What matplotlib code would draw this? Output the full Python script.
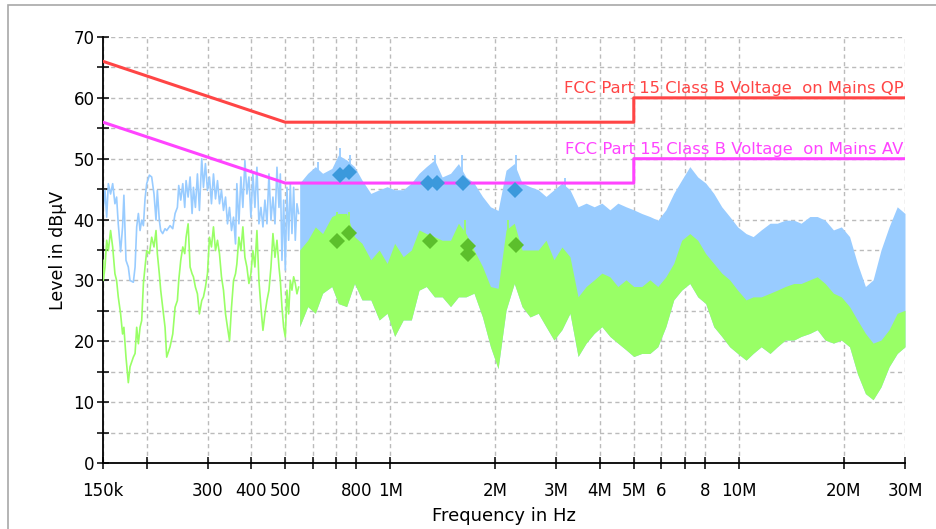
import matplotlib
matplotlib.use('Agg')
import matplotlib.pyplot as plt
from matplotlib.patches import Rectangle

# --- limit lines (MHz / dBuV) ---
lim_mhz = [0.15, 0.5, 5, 5, 30]
qp_limit = [66, 56, 56, 60, 60]
av_limit = [56, 46, 46, 50, 50]

# --- low band, single traces (kHz / dBuV) ---
left_khz = [150, 150.3, 152.0, 153.7, 155.4, 157.7, 159.9, 162.3, 164.1, 165.9,
            168.5, 170.7, 172.2, 174.6, 177.3, 179.3, 183.3, 185.4, 187.4, 189.5,
            191.6, 193.7, 195.9, 198.0, 200.2, 203.8, 206.9, 210.1, 212.9, 214.8,
            217.6, 219.6, 222.5, 226.0, 228.5, 233.6, 237.8, 241.5, 245.2, 247.4,
            250.7, 254.1, 257.4, 259.7, 263.2, 266.7, 270.2, 272.6, 276.2, 279.9,
            283.6, 288.0, 291.3, 295.1, 299.1, 303.1, 307.1, 311.2, 315.4, 319.6,
            323.8, 328.1, 332.5, 337.0, 341.4, 346.0, 350.6, 355.3, 360.0, 363.2,
            368.1, 373.0, 377.9, 383.0, 388.1, 393.3, 398.5, 403.8, 409.2, 414.7,
            420.2, 425.8, 431.5, 437.2, 443.1, 449.0, 455.0, 461.0, 467.2, 473.4,
            479.7, 484.0, 489.3, 494.7, 500.2, 505.7, 511.3, 517.0, 522.7, 528.5,
            534.3, 540.2, 546.2]
peak_left = [45.1, 42.0, 44.8, 40.4, 45.9, 44.2, 45.9, 42.6, 43.7, 39.3,
             34.7, 38.8, 44.0, 33.3, 32.2, 30.0, 29.7, 32.2, 38.8, 41.0,
             38.2, 39.9, 39.0, 43.4, 45.9, 47.3, 47.0, 44.2, 39.9, 44.8,
             39.9, 38.2, 37.7, 38.5, 38.2, 39.0, 38.5, 41.0, 42.0, 45.6,
             43.2, 45.9, 42.0, 46.4, 43.7, 47.0, 41.0, 45.3, 42.0, 47.5,
             41.5, 50.0, 45.3, 49.2, 44.8, 47.0, 42.6, 47.5, 43.4, 46.4,
             42.6, 44.8, 41.5, 43.7, 39.3, 42.0, 38.2, 40.4, 36.0, 45.9,
             39.3, 47.0, 42.0, 49.7, 44.2, 47.0, 40.4, 47.5, 42.0, 48.6,
             39.3, 42.0, 38.8, 43.2, 39.3, 47.5, 39.9, 43.7, 39.3, 48.6,
             42.0, 47.5, 33.3, 43.2, 31.7, 45.3, 36.6, 45.9, 37.7, 45.3,
             36.6, 42.6, 41.0]
avg_left = [33.3, 30.0, 32.2, 36.6, 34.9, 38.2, 35.5, 31.1, 30.0, 27.3,
            24.5, 21.2, 22.3, 17.4, 13.2, 15.8, 17.4, 18.0, 22.3, 19.6,
            22.3, 23.4, 29.5, 32.2, 34.9, 34.4, 37.1, 35.5, 38.2, 34.4,
            31.1, 28.4, 25.6, 22.3, 17.4, 19.1, 21.2, 25.6, 26.7, 30.0,
            33.3, 35.5, 34.4, 37.1, 39.3, 32.2, 31.1, 30.6, 28.9, 27.8,
            24.5, 26.7, 27.3, 28.9, 31.1, 37.1, 35.5, 38.8, 34.9, 36.6,
            34.4, 30.6, 28.4, 24.5, 22.3, 20.1, 25.6, 30.0, 31.1, 32.7,
            37.1, 34.9, 38.8, 33.8, 32.2, 29.5, 31.1, 34.9, 32.2, 38.2,
            30.0, 25.6, 21.8, 24.5, 26.7, 28.4, 32.2, 37.7, 33.8, 36.6,
            32.2, 30.0, 25.6, 22.3, 20.7, 28.4, 24.5, 30.0, 28.4, 30.6,
            29.5, 27.8, 28.9]

# --- dense band above ~550 kHz (MHz / dBuV), upper and lower edges ---
band_mhz = [0.55, 0.58, 0.61, 0.64, 0.68, 0.71, 0.75, 0.79, 0.83, 0.88,
            0.93, 0.98, 1.03, 1.09, 1.15, 1.21, 1.27, 1.34, 1.41, 1.49,
            1.57, 1.65, 1.74, 1.84, 1.94, 2.04, 2.15, 2.27, 2.39, 2.52,
            2.66, 2.8, 2.95, 3.11, 3.28, 3.46, 3.65, 3.85, 4.05, 4.27,
            4.5, 4.75, 5.0, 5.27, 5.56, 5.86, 6.18, 6.51, 6.86, 7.24,
            7.63, 8.04, 8.48, 8.94, 9.42, 9.93, 10.5, 11.0, 11.6, 12.3,
            12.9, 13.6, 14.4, 15.1, 16.0, 16.8, 17.7, 18.7, 19.7, 20.8,
            21.9, 23.1, 24.3, 25.6, 27.0, 28.5, 30.0]
peak_hi = [46.0, 47.6, 48.7, 47.6, 48.4, 50.6, 49.8, 48.7, 46.5, 44.3,
           44.9, 45.4, 44.9, 44.9, 46.0, 47.6, 48.7, 49.8, 47.0, 47.6,
           49.2, 47.0, 46.0, 43.8, 42.1, 41.5, 48.1, 49.2, 46.0, 45.4,
           44.9, 43.8, 44.9, 46.0, 44.9, 42.1, 42.7, 42.1, 42.7, 41.6,
           42.7, 42.1, 41.6, 41.0, 40.5, 39.9, 41.6, 44.3, 46.5, 48.7,
           47.0, 46.0, 44.3, 42.1, 40.5, 38.8, 37.7, 37.2, 38.3, 39.4,
           39.4, 39.9, 39.9, 39.4, 40.5, 40.5, 39.9, 38.3, 38.8, 37.2,
           32.8, 29.0, 30.1, 35.0, 38.8, 42.1, 41.0]
avg_hi = [35.0, 36.6, 38.8, 37.7, 40.5, 41.0, 41.0, 37.2, 36.1, 33.4,
          35.0, 32.8, 36.1, 33.9, 35.0, 38.3, 37.7, 37.2, 36.6, 36.6,
          39.4, 37.7, 35.0, 32.3, 29.0, 28.7, 38.3, 39.4, 35.0, 35.0,
          35.0, 36.6, 33.4, 35.5, 33.9, 27.3, 29.0, 30.1, 31.2, 30.6,
          29.0, 30.1, 29.0, 29.0, 30.1, 29.0, 30.6, 32.8, 36.6, 37.7,
          36.6, 34.4, 32.8, 31.2, 30.1, 28.4, 26.8, 27.3, 27.3, 27.9,
          28.4, 29.0, 29.5, 29.5, 30.1, 30.6, 29.5, 27.9, 27.3, 25.7,
          23.5, 21.3, 19.7, 20.2, 21.9, 24.6, 25.1]
avg_lo = [22.4, 25.7, 24.6, 27.9, 29.0, 26.2, 25.7, 29.5, 26.8, 26.8,
          23.5, 24.6, 20.8, 23.5, 23.5, 28.4, 29.0, 27.3, 27.3, 25.7,
          27.3, 27.3, 27.9, 24.0, 19.1, 15.5, 25.1, 29.5, 25.7, 24.0,
          24.6, 22.4, 20.2, 21.9, 24.6, 17.5, 19.7, 21.3, 22.4, 20.8,
          19.7, 18.6, 17.5, 18.0, 18.0, 19.1, 22.4, 26.8, 28.4, 29.5,
          27.3, 26.2, 22.4, 20.8, 19.1, 18.0, 16.9, 18.0, 19.1, 18.0,
          19.1, 20.2, 20.2, 20.8, 21.3, 21.9, 20.2, 19.7, 20.2, 19.1,
          14.7, 11.4, 10.4, 12.5, 15.8, 18.0, 19.1]

# narrow spikes sticking out of the band
peak_spike_mhz = [0.622, 0.718, 0.767, 1.345, 1.605, 2.29, 3.18]
peak_spike_db = [49.5, 51.7, 50.6, 50.6, 50.6, 50.6, 46.8]
avg_spike_mhz = [0.703, 0.76, 1.64, 2.18]
avg_spike_db = [41.3, 41.3, 39.9, 39.9]

# --- final measurement points ---
qp_mhz = [0.718, 0.763, 1.287, 1.36, 1.616, 2.28]
qp_db = [47.3, 47.8, 46.0, 46.0, 46.0, 44.9]
av_mhz = [0.703, 0.763, 1.30, 1.676, 1.676, 2.29]
av_db = [36.4, 37.8, 36.5, 35.7, 34.3, 35.8]

tick_mhz = [0.15, 0.2, 0.3, 0.4, 0.5, 0.6, 0.7, 0.8, 1, 2, 3, 4, 5, 6, 7, 8, 10, 20, 30]
tick_text = ['150k', '', '300', '400', '500', '', '', '800', '1M', '2M', '3M', '4M',
             '5M', '6', '', '8', '10M', '20M', '30M']

BLUE = '#99ccff'
GREEN = '#99ff66'
QP_RED = '#ff4545'
AV_MAG = '#ff44ff'

fig = plt.figure(figsize=(9.36, 5.29), dpi=100)
ax = fig.add_axes([103/936, 66/529, 802/936, 426/529])

# peak trace
ax.plot([f / 1000 for f in left_khz], peak_left, color=BLUE, lw=1.2, zorder=2)
ax.fill_between(band_mhz, avg_lo, peak_hi, color=BLUE, lw=0, zorder=2)
ax.vlines(peak_spike_mhz, 36, peak_spike_db, color=BLUE, lw=1.3, zorder=2)
# average trace
ax.plot([f / 1000 for f in left_khz], avg_left, color=GREEN, lw=1.2, zorder=3)
ax.fill_between(band_mhz, avg_lo, avg_hi, color=GREEN, lw=0, zorder=3)
ax.vlines(avg_spike_mhz, 30, avg_spike_db, color=GREEN, lw=1.3, zorder=3)

# limits
ax.plot(lim_mhz, qp_limit, color=QP_RED, lw=2.2, zorder=4)
ax.plot(lim_mhz, av_limit, color=AV_MAG, lw=2.2, zorder=4)
ax.text(29.7, 60.75, 'FCC Part 15 Class B Voltage  on Mains QP', color=QP_RED,
        fontsize=11.8, ha='right', va='baseline', zorder=5)
ax.text(29.7, 50.75, 'FCC Part 15 Class B Voltage  on Mains AV', color=AV_MAG,
        fontsize=11.8, ha='right', va='baseline', zorder=5)

# markers
ax.plot(qp_mhz, qp_db, 'D', color='#3b99dc', ms=8.5, mew=0, zorder=6)
ax.plot(av_mhz, av_db, 'D', color='#5cbf2c', ms=8.5, mew=0, zorder=6)

ax.set_xscale('log')
ax.set_xlim(0.15, 30)
ax.set_ylim(0, 70)
ax.set_xticks(tick_mhz)
ax.set_xticklabels(tick_text)
ax.xaxis.set_minor_locator(matplotlib.ticker.NullLocator())
ax.set_yticks(range(0, 71, 10))
ax.set_yticks(range(5, 70, 10), minor=True)

for s in ['top', 'right']:
    ax.spines[s].set_visible(False)
for s in ['left', 'bottom']:
    ax.spines[s].set_linewidth(1.3)

ax.tick_params(which='both', direction='inout', length=8, width=1.1, labelsize=12)
ax.tick_params(axis='x', pad=10)
ax.tick_params(axis='y', pad=2)
ax.grid(True, which='both', color='#bbbbbb', lw=1, linestyle=(0, (3, 2.5)), zorder=0)
ax.set_axisbelow(True)

ax.set_xlabel('Frequency in Hz', fontsize=13, labelpad=5)
ax.set_ylabel('Level in dBµV', fontsize=12.5, labelpad=5)

# outer panel frame
fig.add_artist(Rectangle((8/936, -0.1), 1.2, 1.1 - 5/529, transform=fig.transFigure,
                         fill=False, edgecolor='#a8a8a8', lw=1.2))

fig.savefig('out.png', dpi=100)
